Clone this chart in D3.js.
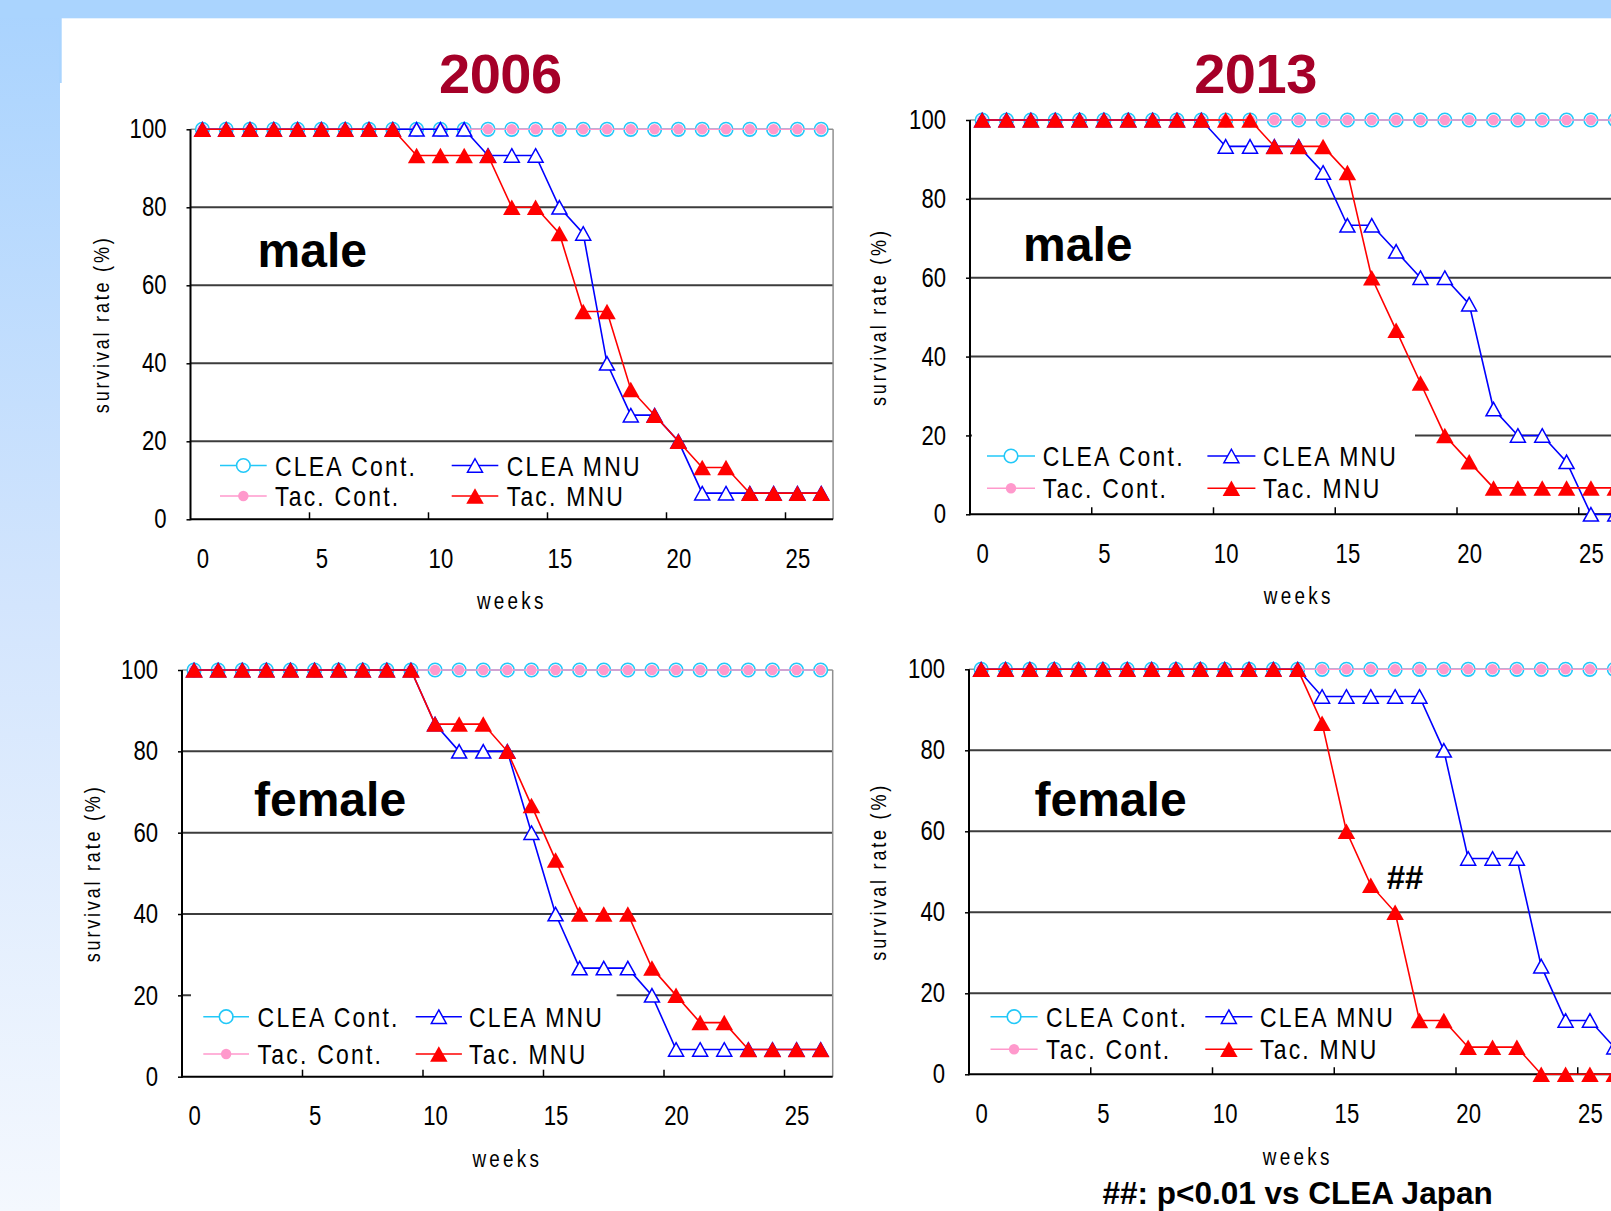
<!DOCTYPE html>
<html><head><meta charset="utf-8">
<script src="https://cdn.jsdelivr.net/npm/d3@7"></script>
<style>
html,body{margin:0;padding:0;background:#fff;}
svg{display:block;}
</style></head><body>
<svg id="chart" width="1611" height="1211"></svg>
<script>
// ---------------- DATA ----------------
const weeks = [0,1,2,3,4,5,6,7,8,9,10,11,12,13,14,15,16,17,18,19,20,21,22,23,24,25,26];
const xTickLabels = [0,5,10,15,20,25];
const yTicks = [0,20,40,60,80,100];
const gridValues = [20,40,60,80];
const yearTitles = ["2006","2013"];
const sexLabels = ["male","female"];
const seriesNames = ["CLEA Cont.","Tac. Cont.","CLEA MNU","Tac. MNU"];
const axisTitleX = "weeks";
const axisTitleY = "survival rate (%)";
const sigMark = "##";
const footnote = "##: p<0.01 vs CLEA Japan";

// survival rate (%) per week
const male2006CleaCont = [100,100,100,100,100,100,100,100,100,100,100,100,100,100,100,100,100,100,100,100,100,100,100,100,100,100,100];
const male2006TacCont  = [100,100,100,100,100,100,100,100,100,100,100,100,100,100,100,100,100,100,100,100,100,100,100,100,100,100,100];
const male2006CleaMNU  = [100,100,100,100,100,100,100,100,100,100,100,100,93.3,93.3,93.3,80,73.3,40,26.7,26.7,20,6.7,6.7,6.7,6.7,6.7,6.7];
const male2006TacMNU   = [100,100,100,100,100,100,100,100,100,93.3,93.3,93.3,93.3,80,80,73.3,53.3,53.3,33.3,26.7,20,13.3,13.3,6.7,6.7,6.7,6.7];

const male2013CleaCont = [100,100,100,100,100,100,100,100,100,100,100,100,100,100,100,100,100,100,100,100,100,100,100,100,100,100,100];
const male2013TacCont  = [100,100,100,100,100,100,100,100,100,100,100,100,100,100,100,100,100,100,100,100,100,100,100,100,100,100,100];
const male2013CleaMNU  = [100,100,100,100,100,100,100,100,100,100,93.3,93.3,93.3,93.3,86.7,73.3,73.3,66.7,60,60,53.3,26.7,20,20,13.3,0,0];
const male2013TacMNU   = [100,100,100,100,100,100,100,100,100,100,100,100,93.3,93.3,93.3,86.7,60,46.7,33.3,20,13.3,6.7,6.7,6.7,6.7,6.7,6.7];

const female2006CleaCont = [100,100,100,100,100,100,100,100,100,100,100,100,100,100,100,100,100,100,100,100,100,100,100,100,100,100,100];
const female2006TacCont  = [100,100,100,100,100,100,100,100,100,100,100,100,100,100,100,100,100,100,100,100,100,100,100,100,100,100,100];
const female2006CleaMNU  = [100,100,100,100,100,100,100,100,100,100,86.7,80,80,80,60,40,26.7,26.7,26.7,20,6.7,6.7,6.7,6.7,6.7,6.7,6.7];
const female2006TacMNU   = [100,100,100,100,100,100,100,100,100,100,86.7,86.7,86.7,80,66.7,53.3,40,40,40,26.7,20,13.3,13.3,6.7,6.7,6.7,6.7];

const female2013CleaCont = [100,100,100,100,100,100,100,100,100,100,100,100,100,100,100,100,100,100,100,100,100,100,100,100,100,100,100];
const female2013TacCont  = [100,100,100,100,100,100,100,100,100,100,100,100,100,100,100,100,100,100,100,100,100,100,100,100,100,100,100];
const female2013CleaMNU  = [100,100,100,100,100,100,100,100,100,100,100,100,100,100,93.3,93.3,93.3,93.3,93.3,80,53.3,53.3,53.3,26.7,13.3,13.3,6.7];
const female2013TacMNU   = [100,100,100,100,100,100,100,100,100,100,100,100,100,100,86.7,60,46.7,40,13.3,13.3,6.7,6.7,6.7,0,0,0,0];

// ---------------- STYLE ----------------
const SANS = "'Liberation Sans',Arial,Helvetica,sans-serif";
const NARROW_K = 0.82; // horizontal compression to mimic a narrow face
const COL = {cleaCont:"#22c8f8", tacCont:"#ff99cc", cleaMNU:"#0000ff", tacMNU:"#ff0000"};

const svg = d3.select("#chart");

// background
const defs = svg.append("defs");
const lg = defs.append("linearGradient").attr("id","leftBand").attr("x1",0).attr("x2",0).attr("y1",0).attr("y2",1);
lg.append("stop").attr("offset","0").attr("stop-color","#a9d3fe");
lg.append("stop").attr("offset","0.5").attr("stop-color","#d3e5fd");
lg.append("stop").attr("offset","1").attr("stop-color","#f4f8fe");
svg.append("rect").attr("x",0).attr("y",0).attr("width",1611).attr("height",1211).attr("fill","#fff");
svg.append("rect").attr("x",0).attr("y",0).attr("width",60).attr("height",1211).attr("fill","url(#leftBand)");
svg.append("rect").attr("x",0).attr("y",0).attr("width",1611).attr("height",18.3).attr("fill","#aad4fe");
svg.append("rect").attr("x",59).attr("y",18).attr("width",2.7).attr("height",65).attr("fill","#aad4fe");

// titles
yearTitles.forEach((t,i)=>{
  svg.append("text").attr("x",[500.3,1255.5][i]).attr("y",92.5).attr("text-anchor","middle")
    .attr("font-family",SANS).attr("font-weight","bold").attr("font-size",56).attr("letter-spacing",-0.5)
    .attr("fill","#a50028").text(t);
});

function narrowText(g, x, y, str, size, ls, anchor, rotate){
  const t = g.append("text")
    .attr("transform",`translate(${x},${y})${rotate?" rotate(-90)":""} scale(${NARROW_K},1)`)
    .attr("dy","0.36em").attr("font-family",SANS).attr("font-size",size)
    .attr("letter-spacing",ls).attr("fill","#000").text(str);
  if(anchor) t.attr("text-anchor",anchor);
  return t;
}

function triType(w,h){
  return {draw(ctx){ ctx.moveTo(0,-h/2); ctx.lineTo(w/2,h/2); ctx.lineTo(-w/2,h/2); ctx.closePath(); }};
}
const blueTri = d3.symbol(triType(15,13.5))();
const redTri = d3.symbol(triType(17.5,15.5))();

function drawMarker(g, kind, cx, cy){
  if(kind==="cleaCont"){
    g.append("circle").attr("cx",cx).attr("cy",cy).attr("r",6.8).attr("fill","#fff").attr("stroke",COL.cleaCont).attr("stroke-width",1.6);
  } else if(kind==="tacCont"){
    g.append("circle").attr("cx",cx).attr("cy",cy).attr("r",5.2).attr("fill",COL.tacCont);
  } else if(kind==="cleaMNU"){
    g.append("path").attr("d",blueTri).attr("transform",`translate(${cx},${cy})`).attr("fill","#fff").attr("stroke",COL.cleaMNU).attr("stroke-width",1.5);
  } else {
    g.append("path").attr("d",redTri).attr("transform",`translate(${cx},${cy})`).attr("fill",COL.tacMNU);
  }
}

const panels = [
  {left:190.5, step:23.8, top:129.3, bottom:519.3, sex:sexLabels[0], sexX:257.5, sexY:267,
   series:{cleaCont:male2006CleaCont, tacCont:male2006TacCont, cleaMNU:male2006CleaMNU, tacMNU:male2006TacMNU},
   legRows:[465.5,496], legCols:[[220,266.7,275],[451.7,498.3,506.7]], box:null,
   yTitleX:101, weeksY:601},
  {left:970, step:24.35, top:120, bottom:514.3, sex:sexLabels[0], sexX:1023, sexY:261,
   series:{cleaCont:male2013CleaCont, tacCont:male2013TacCont, cleaMNU:male2013CleaMNU, tacMNU:male2013TacMNU},
   legRows:[456,488.3], legCols:[[987,1035,1042.7],[1207.4,1255.4,1263]], box:[972,426,443,80],
   yTitleX:878.5, weeksY:596},
  {left:182, step:24.1, top:670, bottom:1076.7, sex:sexLabels[1], sexX:254, sexY:815.5,
   series:{cleaCont:female2006CleaCont, tacCont:female2006TacCont, cleaMNU:female2006CleaMNU, tacMNU:female2006TacMNU},
   legRows:[1016.7,1054], legCols:[[203.3,249,257.6],[415.7,461.9,469]], box:[191,986,425.6,86],
   yTitleX:92.5, weeksY:1159},
  {left:969, step:24.35, top:669.3, bottom:1074.3, sex:sexLabels[1], sexX:1034.5, sexY:815.5,
   series:{cleaCont:female2013CleaCont, tacCont:female2013TacCont, cleaMNU:female2013CleaMNU, tacMNU:female2013TacMNU},
   legRows:[1016.7,1049.3], legCols:[[990.5,1037.6,1046],[1205.3,1252.4,1260]], box:null,
   yTitleX:878.5, weeksY:1157}
];

const order = ["cleaCont","tacCont","cleaMNU","tacMNU"];
const legendLayout = [["cleaCont",0,0,seriesNames[0]],["cleaMNU",0,1,seriesNames[2]],["tacCont",1,0,seriesNames[1]],["tacMNU",1,1,seriesNames[3]]];

panels.forEach((p,pi)=>{
  const g = svg.append("g");
  const right = p.left + p.step*weeks.length;
  const x = d3.scalePoint().domain(weeks).range([p.left,right]).padding(0.5);
  const xb = d3.scaleBand().domain(weeks).range([p.left,right]);
  const y = d3.scaleLinear().domain([0,100]).range([p.bottom,p.top]);

  // gridlines
  g.selectAll("line.grid").data(gridValues).join("line").attr("class","grid")
    .attr("x1",p.left).attr("x2",right).attr("y1",d=>y(d)).attr("y2",d=>y(d))
    .attr("stroke","#3c3c3c").attr("stroke-width",2);
  // plot border (top/right)
  g.append("line").attr("x1",p.left).attr("x2",right).attr("y1",y(100)).attr("y2",y(100)).attr("stroke","#909090").attr("stroke-width",1.5);
  g.append("line").attr("x1",right).attr("x2",right).attr("y1",y(100)).attr("y2",y(0)).attr("stroke","#909090").attr("stroke-width",1.5);

  // legend box
  if(p.box){
    g.append("rect").attr("x",p.box[0]).attr("y",p.box[1]).attr("width",p.box[2]).attr("height",p.box[3]).attr("fill","#fff");
  }

  // y axis labels
  const ya = g.append("g").attr("transform",`translate(${p.left},0)`)
    .call(d3.axisLeft(y).tickValues(yTicks).tickSize(4).tickPadding(20));
  ya.select(".domain").remove();
  ya.selectAll(".tick line").attr("stroke","#000").attr("stroke-width",1.5);
  ya.selectAll("text").attr("font-family",SANS).attr("font-size",27).attr("fill","#000")
    .each(function(){ const t=d3.select(this); t.attr("x",(+t.attr("x"))/NARROW_K).attr("transform",`scale(${NARROW_K},1)`); });

  // x axis labels
  const xa = g.append("g").attr("transform",`translate(0,${p.bottom})`)
    .call(d3.axisBottom(x).tickValues(xTickLabels).tickSize(0).tickPadding(29.5));
  xa.select(".domain").remove();
  xa.selectAll("text").attr("font-family",SANS).attr("font-size",27).attr("fill","#000")
    .attr("transform",`scale(${NARROW_K},1)`);

  // x tick marks between categories (pointing inward)
  g.selectAll("line.xt").data(xTickLabels.filter(d=>d>0)).join("line").attr("class","xt")
    .attr("x1",d=>xb(d)).attr("x2",d=>xb(d)).attr("y1",p.bottom).attr("y2",p.bottom-7)
    .attr("stroke","#000").attr("stroke-width",1.5);

  // axis lines
  g.append("line").attr("x1",p.left).attr("x2",p.left).attr("y1",y(100)).attr("y2",y(0)+1).attr("stroke","#000").attr("stroke-width",2);
  g.append("line").attr("x1",p.left).attr("x2",right).attr("y1",y(0)).attr("y2",y(0)).attr("stroke","#000").attr("stroke-width",2);

  // series
  const line = d3.line().x((d,i)=>x(weeks[i])).y(d=>y(d));
  order.forEach(k=>{
    const vals = p.series[k];
    g.append("path").attr("d",line(vals)).attr("fill","none").attr("stroke",COL[k]).attr("stroke-width",1.6);
    const mg = g.append("g");
    vals.forEach((v,i)=>drawMarker(mg,k,x(weeks[i]),y(v)));
  });

  // legend
  legendLayout.forEach(([k,row,col,name])=>{
    const cy = p.legRows[row];
    const [x1,x2,tx] = p.legCols[col];
    g.append("line").attr("x1",x1).attr("x2",x2).attr("y1",cy).attr("y2",cy).attr("stroke",COL[k]).attr("stroke-width",1.6);
    drawMarker(g,k,(x1+x2)/2,cy);
    narrowText(g, tx, cy, name, 28, 2.7, null, false);
  });

  // sex label
  g.append("text").attr("x",p.sexX).attr("y",p.sexY).attr("font-family",SANS).attr("font-weight","bold")
    .attr("font-size",48).attr("fill","#000").text(p.sex);

  // axis titles
  narrowText(g, (p.left+right)/2, p.weeksY, axisTitleX, 23, 4, "middle", false);
  const cyT = (y(0)+y(100))/2;
  narrowText(g, p.yTitleX, cyT, axisTitleY, 22, 3.4, "middle", true);

  if(pi===3){
    g.append("text").attr("x",1405).attr("y",888.5).attr("text-anchor","middle").attr("font-family",SANS)
      .attr("font-weight","bold").attr("font-size",33).attr("fill","#000").text(sigMark);
  }
});

svg.append("text").attr("x",1297.6).attr("y",1203.5).attr("text-anchor","middle").attr("font-family",SANS)
  .attr("font-weight","bold").attr("font-size",31.5).attr("fill","#000").text(footnote);
</script>
</body></html>
